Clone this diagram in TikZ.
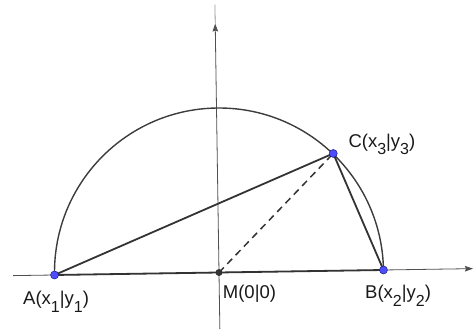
\documentclass[tikz,border=0pt]{standalone}
\usepackage{fontspec}
\setmainfont{Liberation Sans}
\usepackage{xcolor}
\usepackage{tikz}
\usetikzlibrary{calc,arrows.meta,positioning}
\definecolor{linec}{HTML}{333333}
\definecolor{arcc}{HTML}{3C3C3C}
\definecolor{axisc}{HTML}{505050}
\definecolor{ptc}{HTML}{4D4DFF}
\definecolor{ptedge}{HTML}{1A1A80}
\newcommand{\lowidx}[1]{\raisebox{-7.5pt}{\fontsize{16}{16}\selectfont #1}}
\tikzset{
  ax/.style={axisc,line width=0.8pt},
  axar/.style={-{Stealth[length=8pt,width=5.5pt,inset=1pt]},axisc,line width=0.8pt},
  seg/.style={linec,line width=1.8pt},
  pt/.style={circle,draw=ptedge,fill=ptc,line width=0.5pt,minimum size=8pt,inner sep=0pt},
  mpt/.style={circle,fill=linec,minimum size=7pt,inner sep=0pt},
  lbl/.style={inner sep=0pt,anchor=base west,text=black!90,font=\fontsize{18.5}{22}\selectfont}
}

\begin{document}
\begin{tikzpicture}[x=1pt,y=1pt]
\useasboundingbox (0,0) rectangle (475,329);
\begin{scope}[shift={(219,56.5)},rotate=0.87]
\coordinate (M) at (0,0);
\coordinate (A) at (-164.5,0);
\coordinate (B) at (164.5,0);
\coordinate (C) at (45.3:165);
\coordinate (xl) at (-206,0);
\coordinate (xr) at (254,0);
\coordinate (yb) at (0,-62);
\coordinate (ya) at (0,249);
\coordinate (yt) at (0,268);
\draw[axar] (xl) -- (xr);
\draw[axar] (yb) -- (ya);
\draw[axisc!60,line width=0.8pt] (ya) -- (yt);
\draw[arcc,line width=1.4pt] (B) arc[start angle=0,end angle=180,radius=164.5];
\draw[seg] (A) -- (B);
\draw[seg] (A) -- (C) -- (B);
\draw[linec,line width=1.5pt,dash pattern=on 7pt off 5pt] (M) -- (C);
\foreach \p in {A,B,C}{\node[pt] (d\p) at (\p) {};}
\node[mpt] (dM) at (M) {};
\end{scope}
\node[lbl] (lA) at (23,24.3) {A(x\lowidx{1}|y\lowidx{1})};
\node[lbl] (lM) at (222.7,30.7) {M(0|0)};
\node[lbl] (lB) at (365,30) {B(x\lowidx{2}|y\lowidx{2})};
\node[lbl] (lC) at (348.3,181.7) {C(x\lowidx{3}|y\lowidx{3})};
\end{tikzpicture}
\end{document}
